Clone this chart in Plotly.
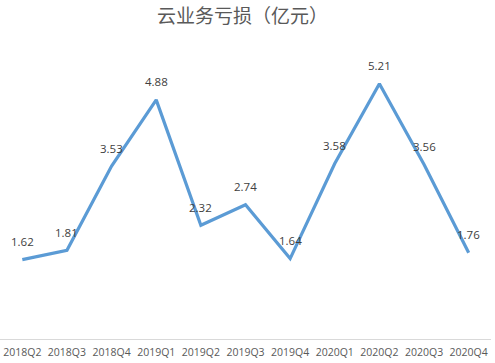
import plotly.graph_objects as go

quarters = ["2018Q2", "2018Q3", "2018Q4", "2019Q1", "2019Q2", "2019Q3",
            "2019Q4", "2020Q1", "2020Q2", "2020Q3", "2020Q4"]
losses = [1.62, 1.81, 3.53, 4.88, 2.32, 2.74, 1.64, 3.58, 5.21, 3.56, 1.76]
labels = [f"{v:.2f}" for v in losses]
title_text = "云业务亏损（亿元）"

fig = go.Figure()
fig.add_trace(go.Scatter(
    x=quarters, y=losses, mode="lines",
    line=dict(color="#5B9BD5", width=3.2),
    cliponaxis=False, hoverinfo="skip",
))
for q, v, t in zip(quarters, losses, labels):
    fig.add_annotation(x=q, y=v, text=t, showarrow=False, yshift=18,
                       font=dict(family="Open Sans, Liberation Sans", size=11.5, color="#404040"))
fig.update_layout(
    width=495, height=363,
    margin=dict(l=0, r=4, t=45, b=24),
    paper_bgcolor="white", plot_bgcolor="white",
    showlegend=False,
    title=dict(text=title_text, x=0.49, xanchor="center", y=0.955, yanchor="middle",
               font=dict(family="Noto Sans CJK SC", size=19, color="#595959")),
    xaxis=dict(type="category", range=[-0.5, 10.5], showgrid=False, zeroline=False,
               showline=True, linecolor="#D9D9D9", linewidth=1, ticks="",
               ticklabelstandoff=3,
               tickfont=dict(family="Open Sans, Liberation Sans", size=10.5, color="#595959")),
    yaxis=dict(range=[0, 6], visible=False, showgrid=False, zeroline=False),
)
fig.write_html("out.html")
